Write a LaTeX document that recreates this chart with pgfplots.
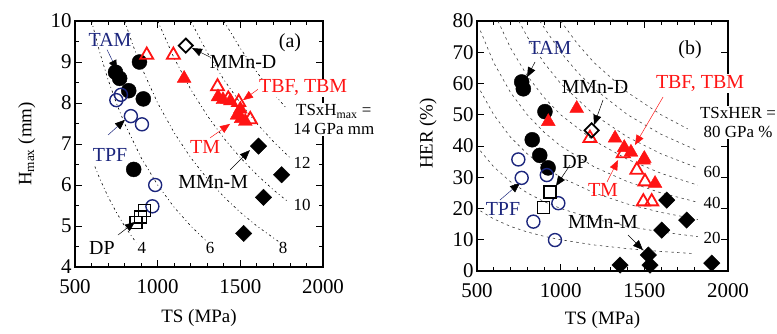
\documentclass[border=0pt]{standalone}
\usepackage{pgfplots}
\pgfplotsset{compat=1.18}
\usepackage{fontspec}
\setmainfont{Liberation Serif}
\usetikzlibrary{arrows.meta}
\definecolor{navy}{RGB}{28,38,125}
\definecolor{myred}{RGB}{255,20,20}
\tikzset{
  arr/.style={-{Triangle[length=10pt,width=8pt,color=black]}, line width=0.5pt},
  arrr/.style={-{Triangle[length=10pt,width=8pt,color=myred]}, line width=0.5pt, myred},
  lab/.style={font=\fontsize{20}{22}\selectfont, inner sep=1pt},
  small/.style={font=\fontsize{17}{19}\selectfont, inner sep=1pt},
  isoa/.style={black, line width=0.6pt, dash pattern=on 2.2pt off 3pt on 0.9pt off 3pt},
  isob/.style={black!75, line width=0.6pt, dash pattern=on 2.5pt off 3.5pt},
}
\pgfplotsset{
  common/.style={
    scale only axis, anchor=south west, clip=false,
    xmin=500, xmax=2000, xtick={500,1000,1500,2000}, minor x tick num=4,
    major tick length=7bp, minor tick length=4bp,
    tick style={line width=0.8pt, black},
    axis line style={line width=1.2pt},
    ticklabel style={font=\fontsize{21}{23}\selectfont},
    xticklabel style={yshift=-9bp},
    /pgf/number format/assume math mode=true,
    /pgf/number format/1000 sep={},
    label style={font=\fontsize{19}{22}\selectfont},
    xlabel={TS (MPa)},
  },
}
\begin{document}
\begin{tikzpicture}
\useasboundingbox (0,0) rectangle (777bp,334bp);
% ---------------- panel (a)
\begin{axis}[common, at={(75bp,67bp)}, width=248bp, height=246bp,
  ymin=4, ymax=10, ytick={4,...,10}, minor y tick num=1,
  xlabel style={at={(axis description cs:0.5,-0.207)}, anchor=center},
  ylabel style={at={(axis description cs:-0.194,0.5)}, anchor=center},
  ylabel={H\textsubscript{max} (mm)}]
% iso-lines TS x Hmax
\addplot[isoa] coordinates {(620,6.452)(650,6.154)(700,5.714)(750,5.333)(800,5.0)(850,4.706)(870,4.598)};
\addplot[isoa] coordinates {(600,10)(650,9.231)(700,8.571)(750,8.0)(800,7.5)(900,6.667)(1000,6.0)(1100,5.455)(1200,5.0)(1290,4.651)};
\addplot[isoa] coordinates {(800,10)(850,9.412)(900,8.889)(1000,8.0)(1100,7.273)(1200,6.667)(1300,6.154)(1400,5.714)(1500,5.333)(1600,5.0)(1730,4.624)};
\addplot[isoa] coordinates {(1000,10)(1100,9.091)(1200,8.333)(1300,7.692)(1400,7.143)(1500,6.667)(1600,6.25)(1700,5.882)(1790,5.587)};
\addplot[isoa] coordinates {(1200,10)(1300,9.231)(1400,8.571)(1500,8.0)(1600,7.5)(1700,7.059)(1800,6.667)};
\addplot[isoa] coordinates {(1400,10)(1500,9.333)(1600,8.75)(1700,8.235)(1780,7.865)};
% data
\addplot[only marks, mark=*, mark size=7.5bp, black] coordinates {(745,8.75)(770,8.6)(825,8.3)(890,9.0)(913,8.1)(855,6.38)};
\addplot[only marks, mark=o, mark size=6.5bp, navy, line width=1.4pt] coordinates {(750,8.07)(778,8.2)(838,7.68)(905,7.48)(985,6.0)(968,5.48)};
\addplot[only marks, mark=square, mark size=6bp, black, line width=1.4pt] coordinates {(870,5.08)(895,5.22)(920,5.38)};
\addplot[only marks, mark=triangle, mark size=7.5bp, myred, line width=1.8pt] coordinates {(934,9.17)(1095,9.17)(1362,8.4)(1427,8.1)(1490,8.02)(1560,7.6)};
\addplot[only marks, mark=triangle*, mark size=8bp, myred] coordinates {(1160,8.6)(1365,8.15)(1395,8.08)(1440,8.05)(1480,7.7)(1505,7.62)(1530,7.55)(1500,7.85)};
\addplot[only marks, mark=square, mark options={rotate=45}, mark size=5bp, black, line width=1.8pt] coordinates {(1170,9.4)};
\addplot[only marks, mark=square*, mark options={rotate=45}, mark size=5.8bp, black] coordinates {(1610,6.95)(1750,6.25)(1640,5.7)(1520,4.82)};
% arrows
\draw[arr, navy] (axis cs:694,9.3) -- (axis cs:754,8.8);
\draw[arr, navy] (axis cs:700,7.22) -- (axis cs:802,7.59);
\draw[arr] (axis cs:760,4.78) -- (axis cs:863,5.1);
\draw[arr] (axis cs:1317,9.12) -- (axis cs:1208,9.34);
\draw[arr] (axis cs:1438,6.37) -- (axis cs:1558,6.85);
\draw[arrr] (axis cs:1619,8.37) -- (axis cs:1516,8.07);
\draw[arrr] (axis cs:1317,7.15) -- (axis cs:1438,7.49);
% labels
\node[lab, text=navy] at (axis cs:712,9.54) {TAM};
\node[lab, text=navy] at (axis cs:712,6.73) {TPF};
\node[lab] at (axis cs:663,4.46) {DP};
\node[small] at (axis cs:905,4.46) {4};
\node[small] at (axis cs:1317,4.46) {6};
\node[small] at (axis cs:1758,4.46) {8};
\node[lab] at (axis cs:1517,9.0) {MMn-D};
\node[lab] at (axis cs:1800,9.46) {(a)};
\node[lab, text=myred, fill=white] at (axis cs:1880,8.37) {TBF, TBM};
\node[small, fill=white, align=center] at (axis cs:2065,7.6) {TSxH\textsubscript{max} =\\14 GPa mm};
\node[lab, text=myred] at (axis cs:1287,6.93) {TM};
\node[lab] at (axis cs:1336,6.07) {MMn-M};
\node[small] at (axis cs:1873,6.54) {12};
\node[small] at (axis cs:1873,5.51) {10};
\end{axis}
% ---------------- panel (b)
\begin{axis}[common, at={(477bp,63bp)}, width=251bp, height=250bp,
  ymin=0, ymax=80, ytick={0,10,...,80},
  xlabel style={at={(axis description cs:0.5,-0.196)}, anchor=center},
  ylabel style={at={(axis description cs:-0.195,0.55)}, anchor=center},
  ylabel={HER (\%)}]
\addplot[isob] coordinates {(520,19.23)(600,16.667)(700,14.286)(800,12.5)(900,11.111)(1000,10)(1200,8.333)(1400,7.143)(1600,6.25)(1800,5.556)};
\addplot[isob] coordinates {(520,38.46)(600,33.33)(700,28.571)(800,25)(900,22.222)(1000,20)(1200,16.667)(1400,14.286)(1600,12.5)(1820,10.989)};
\addplot[isob] coordinates {(520,57.69)(600,50)(700,42.857)(800,37.5)(900,33.333)(1000,30)(1200,25)(1400,21.429)(1600,18.75)(1820,16.484)};
\addplot[isob] coordinates {(520,76.92)(600,66.667)(700,57.143)(800,50)(900,44.444)(1000,40)(1200,33.333)(1400,28.571)(1600,25)(1820,21.978)};
\addplot[isob] coordinates {(625,80)(700,71.429)(800,62.5)(900,55.556)(1000,50)(1200,41.667)(1400,35.714)(1600,31.25)(1820,27.473)};
\addplot[isob] coordinates {(750,80)(800,75)(900,66.667)(1000,60)(1200,50)(1400,42.857)(1600,37.5)(1820,32.967)};
\addplot[isob] coordinates {(875,80)(1000,70)(1100,63.636)(1200,58.333)(1400,50)(1600,43.75)(1820,38.462)};
\addplot[isob] coordinates {(1000,80)(1100,72.727)(1200,66.667)(1400,57.143)(1600,50)(1760,45.455)};
% data
\addplot[only marks, mark=*, mark size=7.5bp, black] coordinates {(767,60.5)(777,58.3)(906,51)(830,42)(875,37)(925,33)};
\addplot[only marks, mark=o, mark size=6.5bp, navy, line width=1.4pt] coordinates {(747,35.7)(767,29.8)(917,30.7)(986,21.7)(837,15.8)(966,9.9)};
\addplot[only marks, mark=square, mark size=6bp, black, line width=1.4pt] coordinates {(896,20.3)(936,25.3)};
\addplot[only marks, mark=triangle*, mark size=8bp, myred] coordinates {(1096,52)(926,47.8)(1325,42.5)(1380,39.5)(1420,38)(1495,35.5)(1564,28)(1500,36)};
\addplot[only marks, mark=triangle, mark size=7.5bp, myred, line width=1.8pt] coordinates {(1175,42.5)(1374,37.6)(1455,32.3)(1504,28.6)(1494,22.2)(1544,22.2)};
\addplot[only marks, mark=square, mark options={rotate=45}, mark size=5bp, black, line width=1.8pt] coordinates {(1185,45)};
\addplot[only marks, mark=square*, mark options={rotate=45}, mark size=5.8bp, black] coordinates {(1634,22.7)(1753,16.3)(1604,13.1)(1903,2.5)(1355,1.9)(1524,5.1)(1534,1.9)};
% arrows
\draw[arr] (axis cs:847,66.9) -- (axis cs:799,62);
\draw[arr] (axis cs:1253,54.7) -- (axis cs:1199,46.7);
\draw[arr] (axis cs:1056,33.9) -- (axis cs:972,27.2);
\draw[arr, navy] (axis cs:637,22.7) -- (axis cs:757,28.2);
\draw[arrr] (axis cs:1277,28.5) -- (axis cs:1343,35.5);
\draw[arrr] (axis cs:1612,55.7) -- (axis cs:1444,40.3);
\draw[arr] (axis cs:1403,11.5) -- (axis cs:1492,6.7);
% labels
\node[lab, text=navy] at (axis cs:936,71.3) {TAM};
\node[lab] at (axis cs:1205,58.8) {MMn-D};
\node[lab] at (axis cs:1773,70.7) {(b)};
\node[lab, text=myred, fill=white] at (axis cs:1833,60) {TBF, TBM};
\node[small, fill=white, align=center] at (axis cs:2060,47.5) {TSxHER =\\80 GPa \%};
\node[lab] at (axis cs:1086,35) {DP};
\node[lab, text=myred] at (axis cs:1253,26) {TM};
\node[lab, text=navy] at (axis cs:655,20) {TPF};
\node[lab] at (axis cs:1253,15.7) {MMn-M};
\node[small] at (axis cs:1905,31.7) {60};
\node[small] at (axis cs:1905,21.8) {40};
\node[small] at (axis cs:1905,10.6) {20};
\end{axis}
\end{tikzpicture}
\end{document}
